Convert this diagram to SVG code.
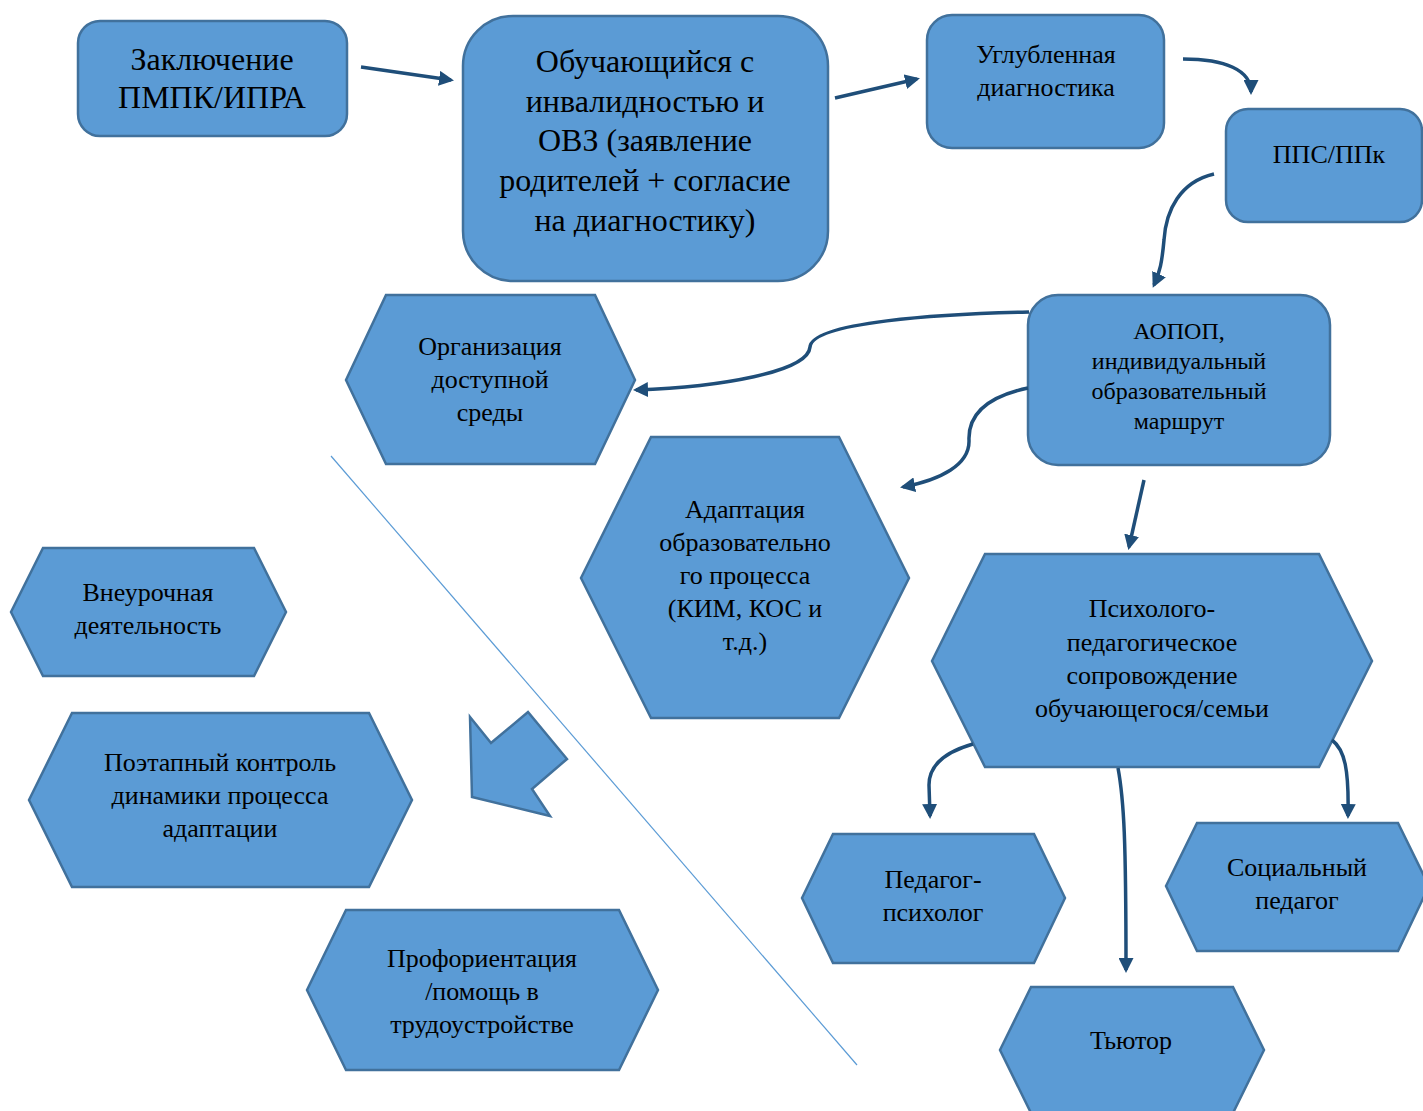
<svg xmlns="http://www.w3.org/2000/svg" width="1423" height="1111" viewBox="0 0 1423 1111">
<defs>
<style>
.n{fill:#5B9BD5;stroke:#41719C;stroke-width:2.5}
.t{font-family:"Liberation Serif","Times New Roman",serif;fill:#000;text-anchor:middle}
.c{fill:none;stroke:#1F4E79;stroke-width:3.5;marker-end:url(#ah)}
</style>
<marker id="ah" viewBox="0 0 10 10" refX="8" refY="5" markerWidth="15" markerHeight="15" markerUnits="userSpaceOnUse" orient="auto">
<path d="M0,0 L10,5 L0,10 z" fill="#1F4E79"/>
</marker>
</defs>
<rect width="1423" height="1111" fill="#fff"/>
<line x1="331" y1="456" x2="857" y2="1065" stroke="#5B9BD5" stroke-width="1.2"/>
<polygon class="n" points="470,717 491,743 528,712 567,759 532,789 550,816 472,797"/>

<g id="n-zakl">
<rect class="n" x="78" y="21" width="269" height="115" rx="22"/>
<text class="t" font-size="32"><tspan x="212" y="70">Заключение</tspan><tspan x="212" y="108">ПМПК/ИПРА</tspan></text>
</g>
<g id="n-obuch">
<rect class="n" x="463" y="16" width="365" height="265" rx="50"/>
<text class="t" font-size="32"><tspan x="645" y="72">Обучающийся с</tspan><tspan x="645" y="112">инвалидностью и</tspan><tspan x="645" y="151">ОВЗ (заявление</tspan><tspan x="645" y="191">родителей + согласие</tspan><tspan x="645" y="231">на диагностику)</tspan></text>
</g>
<g id="n-diag">
<rect class="n" x="927" y="15" width="237" height="133" rx="25"/>
<text class="t" font-size="26"><tspan x="1046" y="63">Углубленная</tspan><tspan x="1046" y="96">диагностика</tspan></text>
</g>
<g id="n-pps">
<rect class="n" x="1226" y="109" width="196" height="113" rx="22"/>
<text class="t" font-size="26"><tspan x="1329" y="163">ППС/ППк</tspan></text>
</g>
<g id="n-aopop">
<rect class="n" x="1028" y="295" width="302" height="170" rx="30"/>
<text class="t" font-size="24"><tspan x="1179" y="339">АОПОП,</tspan><tspan x="1179" y="369">индивидуальный</tspan><tspan x="1179" y="399">образовательный</tspan><tspan x="1179" y="429">маршрут</tspan></text>
</g>
<g id="n-sreda">
<polygon class="n" points="346,380 386,295 595,295 635,380 595,464 386,464"/>
<text class="t" font-size="26"><tspan x="490" y="355">Организация</tspan><tspan x="490" y="388">доступной</tspan><tspan x="490" y="421">среды</tspan></text>
</g>
<g id="n-adapt">
<polygon class="n" points="581,578 651,437 839,437 909,578 839,718 651,718"/>
<text class="t" font-size="26"><tspan x="745" y="518">Адаптация</tspan><tspan x="745" y="551">образовательно</tspan><tspan x="745" y="584">го процесса</tspan><tspan x="745" y="617">(КИМ, КОС и</tspan><tspan x="745" y="650">т.д.)</tspan></text>
</g>
<g id="n-psych">
<polygon class="n" points="932,661 985,554 1319,554 1372,661 1319,767 985,767"/>
<text class="t" font-size="26"><tspan x="1152" y="617">Психолого-</tspan><tspan x="1152" y="651">педагогическое</tspan><tspan x="1152" y="684">сопровождение</tspan><tspan x="1152" y="717">обучающегося/семьи</tspan></text>
</g>
<g id="n-pedpsy">
<polygon class="n" points="802,898 833,834 1034,834 1065,898 1034,963 833,963"/>
<text class="t" font-size="26"><tspan x="933" y="888">Педагог-</tspan><tspan x="933" y="921">психолог</tspan></text>
</g>
<g id="n-socped">
<polygon class="n" points="1166,886 1197,823 1398,823 1429,886 1398,951 1197,951"/>
<text class="t" font-size="26"><tspan x="1297" y="876">Социальный</tspan><tspan x="1297" y="909">педагог</tspan></text>
</g>
<g id="n-tutor">
<polygon class="n" points="1000,1050 1031,987 1233,987 1264,1050 1233,1113 1031,1113"/>
<text class="t" font-size="26"><tspan x="1131" y="1049">Тьютор</tspan></text>
</g>
<g id="n-vneur">
<polygon class="n" points="11,612 43,548 254,548 286,612 254,676 43,676"/>
<text class="t" font-size="26"><tspan x="148" y="601">Внеурочная</tspan><tspan x="148" y="634">деятельность</tspan></text>
</g>
<g id="n-kontrol">
<polygon class="n" points="29,800 72,713 369,713 412,800 369,887 72,887"/>
<text class="t" font-size="26"><tspan x="220" y="771">Поэтапный контроль</tspan><tspan x="220" y="804">динамики процесса</tspan><tspan x="220" y="837">адаптации</tspan></text>
</g>
<g id="n-prof">
<polygon class="n" points="307,990 346,910 619,910 658,990 619,1070 346,1070"/>
<text class="t" font-size="26"><tspan x="482" y="967">Профориентация</tspan><tspan x="482" y="1000">/помощь в</tspan><tspan x="482" y="1033">трудоустройстве</tspan></text>
</g>

<g id="connectors">
<path class="c" d="M361,67 L451,80"/>
<path class="c" d="M835,98 L917,79"/>
<path class="c" d="M1183,59 C1225,59 1251,70 1251,92"/>
<path class="c" d="M1214,174 C1180,182 1166,210 1164,240 C1162,262 1160,272 1154,285"/>
<path class="c" d="M1029,312 C940,314 812,322 810,347 C808,372 720,387 636,390"/>
<path class="c" d="M1028,388 C995,395 968,410 969,440 C970,465 940,480 903,487"/>
<path class="c" d="M1144,480 L1129,547"/>
<path class="c" d="M973,744 C945,752 929,765 929,785 L930,816"/>
<path class="c" d="M1118,768 C1124,800 1126,840 1126,970"/>
<path class="c" d="M1332,740 C1345,750 1349,770 1348,816"/>
</g>
</svg>
